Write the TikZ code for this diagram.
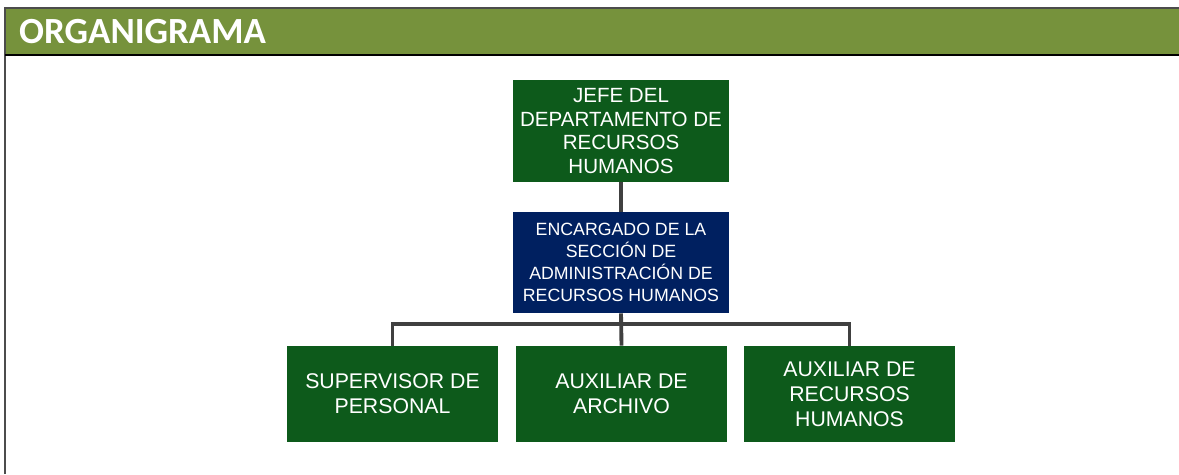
\documentclass[tikz,border=0pt]{standalone}
\usepackage{fontspec}
\setmainfont{Liberation Sans}
\newfontfamily\titlefont{Carlito}
\usepackage{tikz}

\definecolor{bannergreen}{HTML}{76923C}
\definecolor{boxgreen}{HTML}{0D5A1B}
\definecolor{boxnavy}{HTML}{002060}
\definecolor{linkgray}{HTML}{404040}

\tikzset{
  orgbox/.style={fill=boxgreen, text=white, align=center, inner sep=2pt,
    minimum width=4.22cm, minimum height=1.92cm,
    font=\fontsize{12.1}{14.2}\selectfont},
  headbox/.style={orgbox, minimum width=4.32cm, minimum height=2.04cm,
    font=\fontsize{11.7}{13.6}\selectfont},
  navybox/.style={headbox, fill=boxnavy, minimum height=2.02cm,
    font=\fontsize{10.1}{12.4}\selectfont},
  link/.style={draw=linkgray, line width=2.2pt}
}

\begin{document}
\begin{tikzpicture}[x=0.02cm,y=-0.02cm]
    \useasboundingbox (0,0) rectangle (1179,474);
    % Banner and frame
    \fill[bannergreen] (5,8) rectangle (1179,55);
    \draw[black!70,line width=0.6pt] (5,474) -- (5,8) -- (1179,8);
    \draw[black,line width=0.8pt] (5,55) -- (1179,55);
    \node[anchor=west,text=white,font=\titlefont\bfseries\fontsize{21}{25}\selectfont] (titulo) at (13,32) {ORGANIGRAMA};
    % Boxes
    \node[headbox] (jefe) at (621,131) {JEFE DEL\\DEPARTAMENTO DE\\RECURSOS\\HUMANOS};
    \node[navybox] (encargado) at (621,262.5) {ENCARGADO DE LA\\SECCIÓN DE\\ADMINISTRACIÓN DE\\RECURSOS HUMANOS};
    \node[orgbox] (supervisor) at (392.5,394) {SUPERVISOR DE\\PERSONAL};
    \node[orgbox] (archivo) at (621.5,394) {AUXILIAR DE\\ARCHIVO};
    \node[orgbox] (auxiliar) at (849.5,394) {AUXILIAR DE\\RECURSOS\\HUMANOS};
    % Connectors
    \coordinate (bus) at (621,324);
    \draw[link] (jefe) -- (encargado);
    \draw[link] (encargado.south) -- (archivo.north);
    \draw[link] (supervisor.north) |- (bus) -| (auxiliar.north);
\end{tikzpicture}
\end{document}
